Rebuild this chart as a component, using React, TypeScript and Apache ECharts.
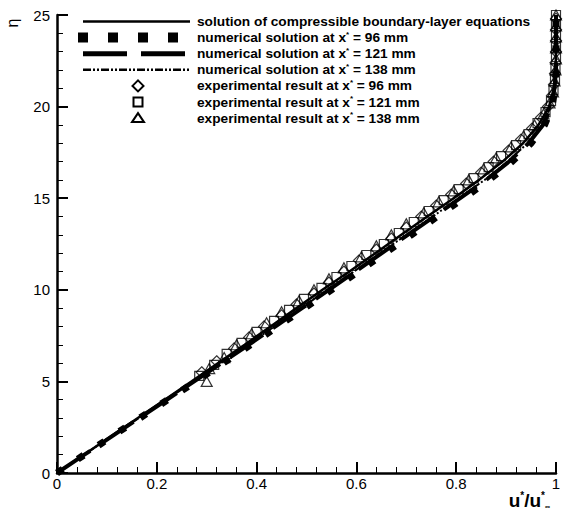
import React, { useEffect, useRef } from "react";
import * as echarts from "echarts";

// ---- data ----
const etaLine = [0, 1, 2, 3, 4, 5, 6, 7, 8, 9, 10, 11, 12, 13, 14, 15, 16, 17, 18, 19, 20, 21, 22, 23, 24, 25];
const uTheory = [0, 0.054, 0.108, 0.162, 0.216, 0.27, 0.323, 0.376, 0.428, 0.48, 0.532, 0.586, 0.638, 0.69, 0.742, 0.795, 0.846, 0.893, 0.934, 0.965, 0.986, 0.996, 0.999, 1, 1, 1];
const uNum96 = [0, 0.055, 0.11, 0.166, 0.222, 0.278, 0.333, 0.388, 0.442, 0.496, 0.55, 0.604, 0.657, 0.71, 0.762, 0.815, 0.866, 0.912, 0.95, 0.977, 0.992, 0.998, 1, 1, 1, 1];
const uNum121 = [0, 0.055, 0.11, 0.165, 0.22, 0.275, 0.33, 0.384, 0.438, 0.491, 0.545, 0.598, 0.651, 0.703, 0.756, 0.808, 0.86, 0.906, 0.945, 0.974, 0.99, 0.997, 1, 1, 1, 1];
const uNum138 = [0, 0.054, 0.109, 0.164, 0.219, 0.274, 0.328, 0.382, 0.436, 0.489, 0.542, 0.595, 0.648, 0.7, 0.753, 0.805, 0.857, 0.903, 0.943, 0.972, 0.989, 0.997, 1, 1, 1, 1];

const etaExp96 = [5.5, 6.1, 6.8, 7.4, 8.0, 8.6, 9.2, 9.8, 10.4, 11.0, 11.6, 12.2, 12.8, 13.4, 14.0, 14.6, 15.2, 15.8, 16.4, 17.0, 17.6, 18.2, 18.8, 19.4, 20.0, 20.6, 21.2, 21.8, 22.4, 23.0, 23.6, 24.2, 24.8];
const uExp96 = [0.29, 0.32, 0.355, 0.385, 0.415, 0.45, 0.48, 0.515, 0.545, 0.575, 0.605, 0.64, 0.67, 0.7, 0.73, 0.76, 0.79, 0.82, 0.85, 0.875, 0.905, 0.93, 0.952, 0.97, 0.984, 0.992, 0.996, 0.998, 0.999, 1.0, 1.0, 1.0, 1.0];
const etaExp121 = [5.3, 5.9, 6.5, 7.1, 7.7, 8.3, 8.9, 9.5, 10.1, 10.7, 11.3, 11.9, 12.5, 13.1, 13.7, 14.3, 14.9, 15.5, 16.1, 16.7, 17.3, 17.9, 18.5, 19.1, 19.7, 20.3, 20.9, 21.5, 22.1, 22.7, 23.3, 23.9, 24.5, 25.0];
const uExp121 = [0.285, 0.315, 0.34, 0.37, 0.4, 0.435, 0.465, 0.495, 0.53, 0.56, 0.59, 0.62, 0.655, 0.685, 0.715, 0.745, 0.775, 0.805, 0.835, 0.865, 0.89, 0.92, 0.945, 0.963, 0.979, 0.99, 0.995, 0.998, 0.999, 1.0, 1.0, 1.0, 1.0, 1.0];
const etaExp138 = [5.0, 5.7, 6.3, 7.0, 7.6, 8.2, 8.8, 9.4, 10.0, 10.6, 11.2, 11.8, 12.4, 13.0, 13.6, 14.2, 14.8, 15.4, 16.0, 16.6, 17.2, 17.8, 18.4, 19.0, 19.6, 20.2, 20.8, 21.4, 22.0, 22.6, 23.2, 23.8, 24.4, 25.0];
const uExp138 = [0.3, 0.305, 0.335, 0.36, 0.39, 0.42, 0.45, 0.485, 0.515, 0.545, 0.575, 0.61, 0.64, 0.67, 0.7, 0.735, 0.765, 0.795, 0.825, 0.855, 0.88, 0.91, 0.935, 0.957, 0.975, 0.987, 0.994, 0.997, 0.999, 1.0, 1.0, 1.0, 1.0, 1.0];

const seriesNames = [
  "solution of compressible boundary-layer equations",
  "numerical solution at x* = 96 mm",
  "numerical solution at x* = 121 mm",
  "numerical solution at x* = 138 mm",
  "experimental result at x* = 96 mm",
  "experimental result at x* = 121 mm",
  "experimental result at x* = 138 mm",
];

const FONT = '"Liberation Sans", Arial, Helvetica, sans-serif';

const pairs = (us: number[], etas: number[]) => us.map((u, i) => [u, etas[i]]);

const richLegend = {
  t: { fontFamily: FONT, fontSize: 13.7, fontWeight: "bold", fill: "#000", lineHeight: 15 },
  s: { fontFamily: FONT, fontSize: 8, fontWeight: "bold", fill: "#000", lineHeight: 8, verticalAlign: "top" },
};

const legendText = (name: string) => {
  const i = name.indexOf("x*");
  if (i < 0) return "{t|" + name + "}";
  return "{t|" + name.slice(0, i + 1) + "}{s|*}{t|" + name.slice(i + 2) + "}";
};

export default function App() {
  const ref = useRef<HTMLDivElement>(null);
  useEffect(() => {
    if (!ref.current) return;
    const chart = echarts.init(ref.current, undefined, { renderer: "svg" });

    const lineSeries = (name: string, us: number[], width: number, type: any) => ({
      name,
      type: "line",
      data: pairs(us, etaLine),
      symbol: "none",
      lineStyle: { color: "#000", width, type, cap: "butt" },
      itemStyle: { color: "#000" },
      z: 2,
    });
    const scatterSeries = (name: string, us: number[], etas: number[], symbol: string, size: any) => ({
      name,
      type: "scatter",
      data: pairs(us, etas),
      symbol,
      symbolSize: size,
      itemStyle: { color: "rgba(0,0,0,0)", borderColor: "#000", borderWidth: 1.2 },
      z: 3,
    });

    // legend drawn as graphic
    const x1 = 190, tx = 197, y0 = 21.5, dy = 16.1;
    const legendItems: any[] = [];
    const lineDefs = [
      { w: 2.5, dash: null, start: 83 },
      { w: 10, dash: [10, 20], start: 78 },
      { w: 5, dash: [44, 14], start: 83 },
      { w: 2.5, dash: [8, 2, 2, 2, 2, 2], start: 83 },
    ];
    seriesNames.forEach((n, i) => {
      const y = y0 + i * dy;
      if (i < 4) {
        const d = lineDefs[i];
        legendItems.push({
          type: "line",
          shape: { x1: d.start, y1: y, x2: x1, y2: y },
          style: { stroke: "#000", lineWidth: d.w, lineDash: d.dash || undefined, lineCap: "butt" },
        });
      } else if (i === 4) {
        legendItems.push({
          type: "polygon",
          shape: { points: [[138, y - 5.5], [143.5, y], [138, y + 5.5], [132.5, y]] },
          style: { fill: "none", stroke: "#000", lineWidth: 2 },
        });
      } else if (i === 5) {
        legendItems.push({
          type: "rect",
          shape: { x: 133.5, y: y - 4.5, width: 9, height: 9 },
          style: { fill: "none", stroke: "#000", lineWidth: 2 },
        });
      } else {
        legendItems.push({
          type: "polygon",
          shape: { points: [[138, y - 5], [144, y + 4], [132, y + 4]] },
          style: { fill: "none", stroke: "#000", lineWidth: 2 },
        });
      }
      legendItems.push({
        type: "text",
        x: tx,
        y,
        style: { text: legendText(n), rich: richLegend, verticalAlign: "middle", align: "left", fill: "#000" },
      });
    });

    chart.setOption({
      animation: false,
      backgroundColor: "#fff",
      grid: { left: 57, right: 8, top: 15, bottom: 40, containLabel: false, outerBoundsMode: "none" },
      xAxis: {
        type: "value",
        min: 0,
        max: 1,
        interval: 0.2,
        axisLine: { show: true, onZero: false, lineStyle: { color: "#000", width: 2.5 } },
        axisTick: { show: true, inside: true, length: 11, lineStyle: { color: "#000", width: 2 } },
        minorTick: { show: true, splitNumber: 5, length: 6, lineStyle: { color: "#000", width: 1 } },
        splitLine: { show: false },
        axisLabel: { color: "#000", fontFamily: FONT, fontSize: 15, margin: 3 },
      },
      yAxis: {
        type: "value",
        min: 0,
        max: 25,
        interval: 5,
        axisLine: { show: true, onZero: false, lineStyle: { color: "#000", width: 2.5 } },
        axisTick: { show: true, inside: true, length: 11, lineStyle: { color: "#000", width: 2 } },
        minorTick: { show: true, splitNumber: 5, length: 6, lineStyle: { color: "#000", width: 1 } },
        splitLine: { show: false },
        axisLabel: { color: "#000", fontFamily: FONT, fontSize: 15, margin: 7 },
      },
      graphic: [
        {
          type: "text",
          x: 12,
          y: 23,
          rotation: Math.PI / 2,
          style: { text: "η", font: '16px "Liberation Sans", Arial, sans-serif', fill: "#000", align: "center", verticalAlign: "middle" },
        },
        {
          type: "text",
          x: 550,
          y: 500,
          style: {
            text: "{b|u}{s|*}{b|/u}{s|*}{i|∞}",
            align: "right",
            verticalAlign: "middle",
            rich: {
              b: { fontFamily: FONT, fontSize: 19, fontWeight: "bold", fill: "#000", lineHeight: 20 },
              s: { fontFamily: FONT, fontSize: 10, fontWeight: "bold", fill: "#000", lineHeight: 9, verticalAlign: "top" },
              i: { fontFamily: FONT, fontSize: 7, fontWeight: "bold", fill: "#000", lineHeight: 6, verticalAlign: "bottom" },
            },
          },
        },
        { type: "group", children: legendItems },
      ],
      series: [
        lineSeries(seriesNames[0], uTheory, 2.5, "solid"),
        lineSeries(seriesNames[1], uNum96, 7, [7, 18]),
        lineSeries(seriesNames[2], uNum121, 4, [40, 12]),
        lineSeries(seriesNames[3], uNum138, 2, [8, 2, 2, 2, 2, 2]),
        scatterSeries(seriesNames[4], uExp96, etaExp96, "diamond", 11),
        scatterSeries(seriesNames[5], uExp121, etaExp121, "rect", 9),
        scatterSeries(seriesNames[6], uExp138, etaExp138, "triangle", [11, 10]),
      ],
    });
    return () => chart.dispose();
  }, []);
  return <div ref={ref} style={{ position: "absolute", left: 0, top: 0, width: 564, height: 513 }} />;
}
